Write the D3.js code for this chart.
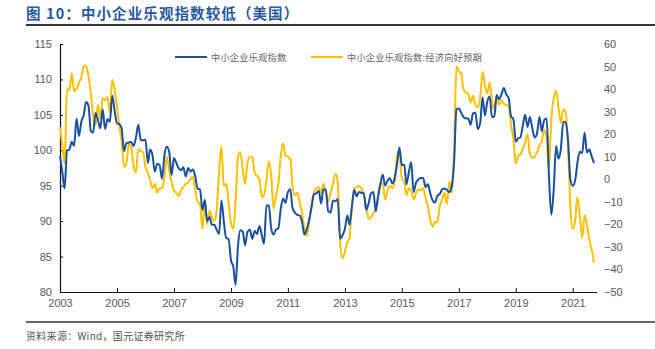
<!DOCTYPE html>
<html><head><meta charset="utf-8">
<script src="https://cdn.jsdelivr.net/npm/d3@7"></script>
<style>
html,body{margin:0;padding:0;background:#fff;}
svg{display:block;font-family:"Liberation Sans",Arial,sans-serif;}
</style></head>
<body><svg id="c" width="655" height="349"></svg>
<script>
// ---------- data ----------
const startMonth = "2003-01";
const yearTicks = ["2003","2005","2007","2009","2011","2013","2015","2017","2019","2021"];
const leftTicks = [80,85,90,95,100,105,110,115];
const rightTicks = [-50,-40,-30,-20,-10,0,10,20,30,40,50,60];
const seriesNames = ["中小企业乐观指数","中小企业乐观指数:经济向好预期"];

// 中小企业乐观指数 (left axis), monthly from 2003-01
const optimism = [
 99.2,96.8,94.6,100.0,100.1,101.2,100.6,104.5,102.0,104.0,105.0,106.8,
 106.3,102.7,102.5,105.3,104.3,103.1,105.8,103.0,104.4,104.0,107.7,105.6,
 103.8,103.7,103.1,99.9,101.0,101.1,101.2,100.6,101.8,103.6,101.5,101.4,
 101.5,98.2,100.1,99.3,97.0,98.1,97.9,96.0,99.3,100.5,99.8,96.5,
 98.9,98.2,97.5,97.2,97.6,96.3,97.5,97.0,97.3,96.3,94.6,94.5,
 91.6,93.0,90.0,90.6,89.5,89.5,88.8,88.2,92.9,90.0,87.6,87.5,
 84.5,83.5,81.0,86.5,88.7,88.5,86.6,88.5,88.8,87.5,88.6,88.2,
 89.3,88.0,86.8,92.2,92.2,89.0,88.1,88.8,89.0,91.7,93.2,92.6,
 94.1,94.5,91.9,91.2,90.9,90.8,89.9,88.1,88.9,90.2,92.0,93.8,
 93.9,94.3,92.5,94.5,94.4,91.4,91.2,92.9,92.8,93.1,87.5,88.0,
 88.9,90.8,89.5,92.1,94.4,93.5,94.1,94.0,93.9,91.6,92.5,93.9,
 94.1,91.4,93.4,95.2,96.6,95.0,95.7,96.1,95.3,96.1,98.1,100.4,
 97.9,98.0,95.2,96.9,98.3,94.1,95.4,95.9,96.1,96.1,94.8,95.2,
 93.9,92.9,92.6,93.6,93.8,94.5,94.6,94.4,94.1,94.9,98.4,105.8,
 105.9,105.3,104.7,104.5,104.5,103.6,105.2,105.3,103.0,103.8,107.5,104.9,
 106.9,107.6,104.7,104.8,107.8,107.2,107.9,108.8,107.9,107.4,104.8,104.4,
 101.2,101.7,101.8,103.5,105.0,103.3,104.7,103.1,101.8,102.4,104.7,102.7,
 104.3,104.5,96.4,90.9,94.4,100.6,98.8,100.2,104.0,104.0,101.4,95.9,
 95.0,95.8,98.2,99.8,99.6,102.5,99.7,100.1,99.1,98.2
];

// 经济向好预期 (right axis), monthly from 2003-01
const outlook = [
 23,15,7,40,39.5,47,39,40,43,45,50.5,50,
 46,38,28,24,33,27,36,35,36.5,30,44,40,
 32,23,17,5.5,7,15.5,14.5,6,3,13.5,12.5,12,
 5.5,3,-0.5,-4,-2,-6,-4,-4,1,10,4,-1,
 -5,-6,-7.5,-5,-3.5,-2,-1.5,0,1,-5,-10,-11,
 -22,-9,-20,-14,-17,-18.5,-14,3,14.5,-3,-2,-10,
 -19.5,-22,-10,10,12,4,-2,7.5,10,10,3,1.5,
 0,-8,-7,-0.3,8,2,-13,-7,-2,10,16,10.5,
 10,9,-3,-7,-6,-10,-15,-22,-25,-19,-11,-6,
 -4,-3.5,-6,-2,-6,-10,-6,-2,2.5,-1,-28,-35,
 -32,-28,-26,-12,-4,-3.5,-3,-4,-7,-12,-17.5,-17,
 -15,-13,-8,-1.5,-2,-9,-5,-3,-4,-1,10,13,
 0,-1,-7,-4,-5,-9,-6,-4.5,-5,-4,-8,-12,
 -18,-21,-19,-19,-12,-9,-6,-11,-1,-6,12,50,
 48,47,40,38.5,38,34,37,33,32,36,47.7,42,
 38,43,35,31,37.4,33,35,33.5,33,32.5,24,18,
 7,10.5,11,13.5,16.5,20,11,9.5,10,12,15,17,
 22,18,5,27,36,39.3,32,25,31,30,14,-12,
 -22,-18,-8,-16,-26,-16,-20,-27,-31.4,-37
];

// ---------- drawing ----------
const svg = d3.select("#c");
const parse = d3.timeParse("%Y-%m");
const t0 = parse(startMonth);
const months = d3.range(optimism.length).map(i => d3.timeMonth.offset(t0, i));

const x = d3.scaleTime().domain([t0, parse("2021-11")]).range([60, 596.5]);
const yL = d3.scaleLinear().domain([80,115]).range([292,44]);
const yR = d3.scaleLinear().domain([-50,60]).range([292,44]);

// title
svg.append("text").attr("x",26).attr("y",19)
  .attr("font-family","'Noto Sans CJK SC',sans-serif").attr("font-weight","bold")
  .attr("font-size",14.5).attr("letter-spacing",1.1).attr("fill","#2a5a9e")
  .text("图 10：中小企业乐观指数较低（美国）");
svg.append("line").attr("x1",26).attr("x2",655).attr("y1",25).attr("y2",25)
  .attr("stroke","#333").attr("stroke-width",2);
svg.append("line").attr("x1",26).attr("x2",655).attr("y1",322).attr("y2",322)
  .attr("stroke","#333").attr("stroke-width",1.5);
svg.append("text").attr("x",26).attr("y",340)
  .attr("font-family","'Noto Sans CJK SC',sans-serif")
  .attr("font-size",10).attr("fill","#555").attr("letter-spacing",0.3)
  .text("资料来源：Wind，国元证券研究所");

// axes
const axL = svg.append("g").attr("transform","translate(60,0)")
  .call(d3.axisLeft(yL).tickValues(leftTicks).tickSizeInner(-3).tickSizeOuter(0).tickPadding(8));
const axR = svg.append("g").attr("transform","translate(596,0)")
  .call(d3.axisRight(yR).tickValues(rightTicks).tickSize(0).tickPadding(8).tickFormat(d3.format("d")));
axR.select(".domain").remove();
const axB = svg.append("g").attr("transform","translate(0,292)")
  .call(d3.axisBottom(x).tickValues(yearTicks.map(s => parse(s+"-01")))
    .tickFormat(d3.timeFormat("%Y")).tickSizeInner(-4).tickSizeOuter(0).tickPadding(7));
[axL,axR,axB].forEach(a=>{
  a.selectAll("text").attr("font-size",11).attr("fill","#595959")
    .attr("font-family","'Liberation Sans',Arial,sans-serif");
  a.selectAll("line").attr("stroke","#111");
  a.select(".domain").attr("stroke","#111").attr("stroke-width",1.2);
});

// lines
const colors = ["#1a50a0","#ffc000"];
const lineL = d3.line().x((d,i)=>x(months[i])).y(d=>yL(d)).curve(d3.curveMonotoneX);
const lineR = d3.line().x((d,i)=>x(months[i])).y(d=>yR(d)).curve(d3.curveMonotoneX);
svg.append("path").datum(outlook).attr("d",lineR).attr("fill","none")
  .attr("stroke",colors[1]).attr("stroke-width",2);
svg.append("path").datum(optimism).attr("d",lineL).attr("fill","none")
  .attr("stroke",colors[0]).attr("stroke-width",2);

// legend
const legX = [175, 311];
seriesNames.forEach((n,i)=>{
  const g = svg.append("g").attr("transform",`translate(${legX[i]},57)`);
  g.append("line").attr("x1",0).attr("x2",32).attr("stroke",colors[i]).attr("stroke-width",2);
  g.append("text").attr("x",36).attr("y",3.5)
    .attr("font-family","'Noto Sans CJK SC',sans-serif")
    .attr("font-size",9.2).attr("letter-spacing",0.25).attr("fill","#666").text(n);
});
</script></body></html>
